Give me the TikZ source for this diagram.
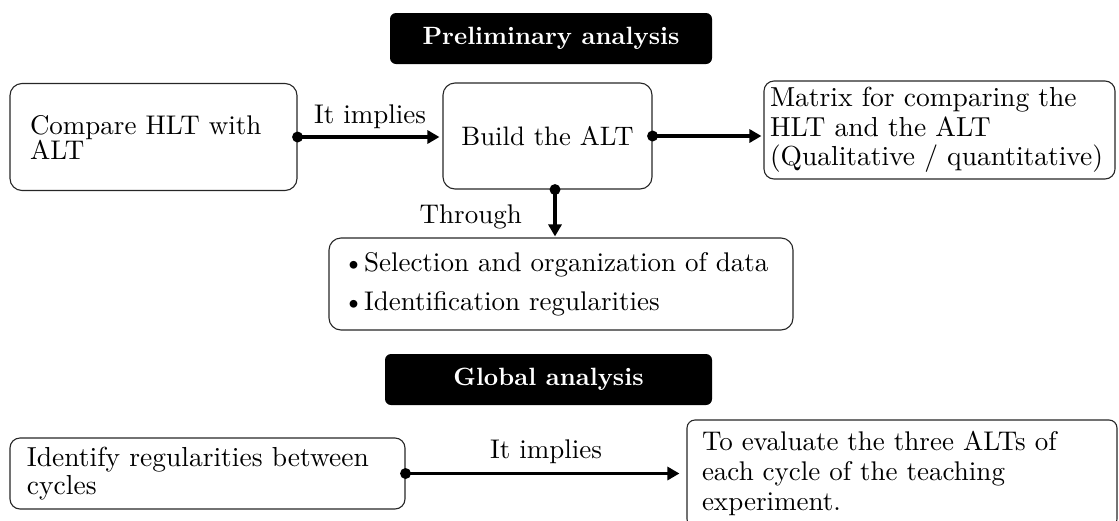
\documentclass[tikz,border=0pt]{standalone}
\usepackage{fontspec}
\setmainfont{lmroman10-regular.otf}[BoldFont=lmroman10-bold.otf]
\usetikzlibrary{arrows.meta,calc}
\begin{document}
\begin{tikzpicture}[x=1pt,y=-1pt,
  box/.style={draw=black!85, line width=1.1pt, rounded corners=12pt, text=black,
    font=\fontsize{27}{31}\selectfont},
  head/.style={fill=black, rounded corners=6pt, text=white, inner sep=0pt,
    font=\bfseries\fontsize{25}{28}\selectfont, minimum height=51pt},
  conn/.style={line width=3.2pt, -{Triangle[length=12pt,width=13pt]}},
  lbl/.style={font=\fontsize{27}{31}\selectfont, inner sep=0pt, text=black}]
\useasboundingbox (0,0) rectangle (1119,520);

% headings
\node[head, minimum width=322pt] (pre) at (551,38.5) {Preliminary analysis};
\node[head, minimum width=327pt] (glo) at (548.5,379.5) {Global analysis};

% top row
\node[box, minimum width=287pt, minimum height=107pt, inner xsep=20pt,
  text width=247pt, align=left, font=\fontsize{27}{25}\selectfont]
  (cmp) at (153.5,137) {Compare HLT with\\ALT};
\node[box, minimum width=209pt, minimum height=106pt, align=center,
  font=\fontsize{26.7}{30}\selectfont]
  (bld) at (547.5,136) {Build the ALT};
\node[box, rounded corners=10pt, minimum width=351pt, minimum height=98pt,
  inner xsep=6pt, text width=339pt, align=left, font=\fontsize{27.5}{29.5}\selectfont]
  (mat) at (939.5,130) {Matrix for comparing the\\HLT and the ALT\\(Qualitative / quantitative)};

% through box
\node[box, minimum width=464pt, minimum height=92pt, inner xsep=14pt,
  text width=436pt, align=left, font=\fontsize{27}{31}\selectfont] (thr) at (561,284)
  {\textbullet Selection and organization of data\\[8pt]\textbullet Identification regularities};

% bottom row
\node[box, rounded corners=10pt, minimum width=395pt, minimum height=71pt,
  inner xsep=17pt, text width=361pt, align=left, font=\fontsize{27.5}{28}\selectfont]
  (idf) at (207.5,473.5) {Identify regularities between\\cycles};
\node[box, rounded corners=8pt, minimum width=430pt, minimum height=107pt,
  inner xsep=15pt, text width=400pt, align=left, font=\fontsize{27}{30}\selectfont]
  (evl) at (902,473.5) {To evaluate the three ALTs of\\each cycle of the teaching\\experiment.};

% connectors
\fill (cmp.east) circle (5.5pt);
\draw[conn, shorten >=3pt] (cmp.east) -- (cmp.east -| bld.west)
  node[lbl, midway, above=6.5pt] (imp1) {It implies};

\fill (bld.east) circle (5.5pt);
\draw[conn, shorten >=2pt] (bld.east) -- (bld.east -| mat.west);

\coordinate (bs) at ($(bld.south)+(7.5,0)$);
\fill (bs) circle (5.5pt);
\draw[conn, shorten >=1pt] (bs) -- (bs |- thr.north);
\node[lbl, anchor=base east] (thrl) at (522,223) {Through};

\fill (idf.east) circle (5.5pt);
\draw[conn, shorten >=7pt] (idf.east) -- (evl.west)
  node[lbl, midway, above=8.3pt] (imp2) {It implies};
\end{tikzpicture}
\end{document}
